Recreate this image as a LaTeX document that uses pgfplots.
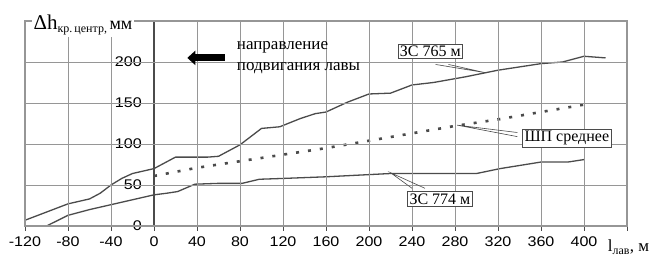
\documentclass[border=0pt]{standalone}
\usepackage{fontspec}
\setmainfont{Liberation Serif}
\newfontfamily\arialf[FakeStretch=1.15]{Liberation Sans}
\usepackage{pgfplots}
\pgfplotsset{compat=1.18}
\usetikzlibrary{arrows.meta}
\definecolor{gridgray}{RGB}{150,150,150}
\definecolor{curvec}{RGB}{75,75,75}

\pgfplotstableread{
x y
-120 7
-100 17
-80 27
-60 33
-50 40
-40 50
-30 58
-20 64
0 70
20 84
50 84
60 85
80 99
100 119
117 121
136 131
150 137
160 139
180 151
200 161
220 162
240 172
260 175
290 182
320 190
360 198
380 200
400 207
420 205
}\zsA

\pgfplotstableread{
x y
0 61
40 71
80 79
120 87
160 95
200 104
240 113
280 122
320 130
360 139
400 148
}\shp

\pgfplotstableread{
x y
-100 0
-80 13
-60 20
-40 26
-20 32
0 38
12 40
22 42
38 51
60 52
82 52
98 57
120 58
160 60
220 64
300 64
322 70
360 78
385 78
400 81
}\zsB

\begin{document}
\begin{tikzpicture}
\pgfplotsset{
  common/.style={
    at={(0,0)}, anchor=south west, scale only axis,
    width=602pt, height=205pt,
    xmin=-120, xmax=440, ymin=0, ymax=250,
    /pgf/number format/assume math mode=true,
    tick label style={font=\arialf\fontsize{14}{14}\selectfont},
  }
}
\begin{axis}[common,
  axis line style={draw=none},
  xtick={-120,-80,...,440},
  xticklabels={-120,-80,-40,0,40,80,120,160,200,240,280,320,360,400,},
  ytick=\empty,
  xtick pos=bottom, tick align=outside, major tick length=5pt,
  x tick style={draw=curvec, line width=0.8pt},
  xticklabel style={yshift=-2pt},
]
\addplot[curvec, line width=1.3pt] table {\zsA};
\addplot[curvec, line width=2.6pt, dash pattern=on 3pt off 9pt] table {\shp};
\addplot[curvec, line width=1.3pt] table {\zsB};
\end{axis}
\begin{axis}[common,
  axis x line=none, axis y line=middle,
  y axis line style={-, draw=curvec, line width=1.1pt},
  ytick={0,50,...,200},
  tick align=center, major tick length=6pt,
  tick style={draw=curvec, line width=0.8pt},
  yticklabel style={fill=white, inner sep=1pt, xshift=-8pt},
  clip=false,
]
% grid and frame (drawn in the second axis)
\draw[gridgray, line width=0.9pt]
  (axis cs:-80,0) -- (axis cs:-80,250)
  (axis cs:-40,0) -- (axis cs:-40,250)
  (axis cs:40,0) -- (axis cs:40,250)
  (axis cs:80,0) -- (axis cs:80,250)
  (axis cs:120,0) -- (axis cs:120,250)
  (axis cs:160,0) -- (axis cs:160,250)
  (axis cs:200,0) -- (axis cs:200,250)
  (axis cs:240,0) -- (axis cs:240,250)
  (axis cs:280,0) -- (axis cs:280,250)
  (axis cs:320,0) -- (axis cs:320,250)
  (axis cs:360,0) -- (axis cs:360,250)
  (axis cs:400,0) -- (axis cs:400,250)
  (axis cs:-120,50) -- (axis cs:440,50)
  (axis cs:-120,100) -- (axis cs:440,100)
  (axis cs:-120,150) -- (axis cs:440,150)
  (axis cs:-120,200) -- (axis cs:440,200);
\draw[gridgray, line width=1.1pt] (axis cs:-120,0) rectangle (axis cs:440,250);

% leader lines
\draw[curvec, line width=0.6pt] (axis cs:262,197) -- (axis cs:308,187) -- (axis cs:274,197);
\draw[curvec, line width=0.6pt] (axis cs:338,114) -- (axis cs:282,123) -- (axis cs:338,109);
\draw[curvec, line width=0.6pt] (axis cs:240,46) -- (axis cs:220,65) -- (axis cs:252,46);

\node[draw=curvec, fill=white, line width=0.6pt, inner sep=2pt, font=\fontsize{16}{16}\selectfont] at (axis cs:257,213) {ЗС 765 м};
\node[draw=curvec, fill=white, line width=0.6pt, inner sep=2pt, font=\fontsize{16}{16}\selectfont] at (axis cs:384,107) {ШП среднее};
\node[draw=curvec, fill=white, line width=0.6pt, inner sep=2pt, font=\fontsize{16}{16}\selectfont] at (axis cs:266,33) {ЗС 774 м};

% arrow
\draw[line width=7pt, -{Triangle[length=8pt, width=14pt]}] (axis cs:66,205) -- (axis cs:31,205);
\node[anchor=west, align=left, font=\fontsize{17}{21}\selectfont, inner sep=0pt] at (axis cs:77,205) {направление\\подвигания лавы};

% axis labels
\node[anchor=base west, fill=white, inner sep=2pt] at (axis cs:-114,240) {{\fontsize{21}{21}\selectfont Δh}\raisebox{-3pt}{\fontsize{12}{12}\selectfont кр.\,центр,}\ {\fontsize{18}{18}\selectfont мм}};
\node[anchor=base west, inner sep=0pt, font=\fontsize{17}{17}\selectfont] at (axis cs:422,-31.7) {l\textsubscript{лав}, м};
\end{axis}
\pgfresetboundingbox
\path (-25pt,-33pt) rectangle (632pt,226pt);
\end{tikzpicture}
\end{document}
